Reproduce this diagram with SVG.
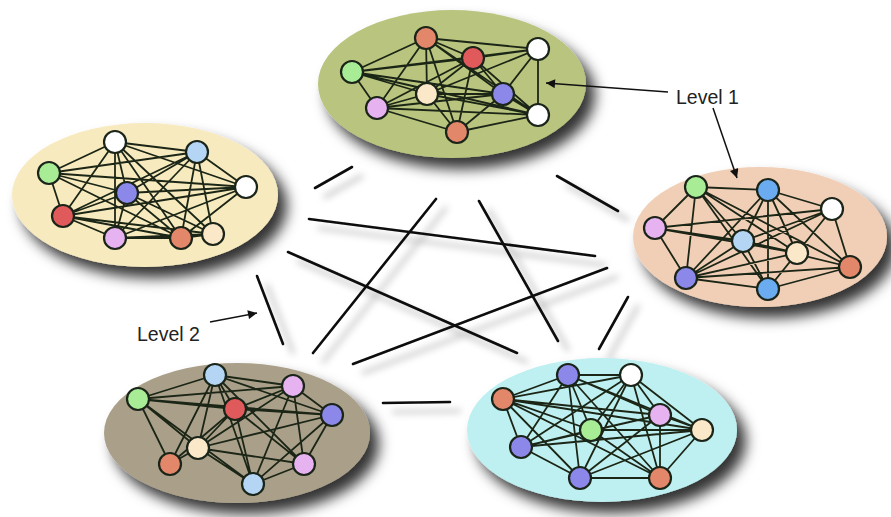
<svg xmlns="http://www.w3.org/2000/svg" width="891" height="517" viewBox="0 0 891 517">
  <defs>
    <filter id="blobShadow" x="-20%" y="-30%" width="150%" height="170%">
      <feDropShadow dx="9" dy="11" stdDeviation="7" flood-color="#000" flood-opacity="0.8"/>
    </filter>
    <filter id="lineShadow" x="-10%" y="-10%" width="130%" height="130%">
      <feDropShadow dx="10" dy="9" stdDeviation="3.5" flood-color="#000" flood-opacity="0.32"/>
    </filter>
    <marker id="arrow" viewBox="0 0 10 10" refX="10" refY="5" markerWidth="10" markerHeight="9" orient="auto" markerUnits="userSpaceOnUse">
      <path d="M0,0 L10,5 L0,10 z" fill="#111"/>
    </marker>
  </defs>
  <style>
    .edge { fill: none; stroke: #1c2616; stroke-width: 1.8; }
    .link { fill: none; stroke: #0a0a0a; stroke-width: 2.6; stroke-linecap: round; }
    .pointer { fill: none; stroke: #111; stroke-width: 1.5; }
    .n { stroke: #1a2418; stroke-width: 2.2; }
    .orange { fill: #e2876a; }
    .red { fill: #e05a5c; }
    .white { fill: #ffffff; }
    .green { fill: #a8ec96; }
    .cream { fill: #fbe8c9; }
    .purple { fill: #8c88ea; }
    .pink { fill: #e6b2f0; }
    .ltblue { fill: #b4d6f4; }
    .blue { fill: #6babf0; }
    .label { font-family: "Liberation Sans", Arial, sans-serif; font-size: 19.5px; fill: #222; }
  </style>

  <rect width="891" height="517" fill="#ffffff"/>

  <!-- inter-cluster connectors -->
  <g id="connectors" filter="url(#lineShadow)">
    <line class="link" x1="315" y1="188" x2="352" y2="167"/>
    <line class="link" x1="557" y1="176" x2="618" y2="211"/>
    <line class="link" x1="309" y1="219" x2="595" y2="256"/>
    <line class="link" x1="288" y1="252" x2="517" y2="353"/>
    <line class="link" x1="436" y1="199" x2="313" y2="353"/>
    <line class="link" x1="479" y1="201" x2="558" y2="341"/>
    <line class="link" x1="607" y1="268" x2="353" y2="364"/>
    <line class="link" x1="257" y1="276" x2="283" y2="344"/>
    <line class="link" x1="628" y1="297" x2="599" y2="349"/>
    <line class="link" x1="383" y1="403" x2="450" y2="402"/>
  </g>

  <!-- top cluster -->
  <g id="cluster-top">
    <ellipse cx="452" cy="84" rx="134" ry="74" fill="#b9c47f" filter="url(#blobShadow)"/>
    <path class="edge" d="M426,38 L473,58 M426,38 L538,49 M426,38 L352,72 M426,38 L427,94 M426,38 L503,94 M426,38 L377,108 M426,38 L457,132 M426,38 L538,115
      M473,58 L538,49 M473,58 L352,72 M473,58 L427,94 M473,58 L503,94 M473,58 L377,108 M473,58 L538,115 M473,58 L457,132
      M538,49 L538,115 M538,49 L503,94 M538,49 L427,94 M538,49 L352,72
      M352,72 L427,94 M352,72 L503,94 M352,72 L377,108 M352,72 L538,115
      M427,94 L503,94 M427,94 L377,108 M427,94 L457,132 M427,94 L538,115
      M503,94 L377,108 M503,94 L538,115 M503,94 L457,132
      M377,108 L538,115 M377,108 L457,132 M538,115 L457,132"/>
    <circle class="n orange" cx="426" cy="38" r="11"/>
    <circle class="n red" cx="473" cy="58" r="11"/>
    <circle class="n white" cx="538" cy="49" r="11"/>
    <circle class="n green" cx="352" cy="72" r="11"/>
    <circle class="n cream" cx="427" cy="94" r="11"/>
    <circle class="n purple" cx="503" cy="94" r="11"/>
    <circle class="n pink" cx="377" cy="108" r="11"/>
    <circle class="n white" cx="538" cy="115" r="11"/>
    <circle class="n orange" cx="457" cy="132" r="11"/>
  </g>

  <!-- left cluster -->
  <g id="cluster-left">
    <ellipse cx="145" cy="195" rx="133" ry="72" fill="#f8eabf" filter="url(#blobShadow)"/>
    <path class="edge" d="M115,142 L197,152 M115,142 L49,173 M115,142 L246,187 M115,142 L63,216 M115,142 L115,238 M115,142 L181,238 M115,142 L213,234 M115,142 L127,193
      M197,152 L246,187 M197,152 L127,193 M197,152 L63,216 M197,152 L115,238 M197,152 L181,238 M197,152 L213,234 M197,152 L49,173
      M49,173 L246,187 M49,173 L127,193 M49,173 L63,216 M49,173 L181,238
      M246,187 L127,193 M246,187 L63,216 M246,187 L115,238 M246,187 L181,238
      M127,193 L63,216 M127,193 L115,238 M127,193 L181,238 M127,193 L213,234
      M63,216 L115,238 M63,216 L181,238 M63,216 L213,234
      M115,238 L181,238 M115,238 L213,234 M181,238 L213,234"/>
    <circle class="n white" cx="115" cy="142" r="11"/>
    <circle class="n ltblue" cx="197" cy="152" r="11"/>
    <circle class="n green" cx="49" cy="173" r="11"/>
    <circle class="n white" cx="246" cy="187" r="11"/>
    <circle class="n purple" cx="127" cy="193" r="11"/>
    <circle class="n red" cx="63" cy="216" r="11"/>
    <circle class="n pink" cx="115" cy="238" r="11"/>
    <circle class="n orange" cx="181" cy="238" r="11"/>
    <circle class="n cream" cx="213" cy="234" r="11"/>
  </g>

  <!-- right cluster -->
  <g id="cluster-right">
    <ellipse cx="760" cy="237" rx="127" ry="70" fill="#f1cfb7" filter="url(#blobShadow)"/>
    <path class="edge" d="M696,187 L768,190 M696,187 L655,228 M696,187 L686,278 M696,187 L743,241 M696,187 L797,253 M696,187 L850,267 M696,187 L768,289
      M768,190 L832,209 M768,190 L743,241 M768,190 L686,278 M768,190 L768,289 M768,190 L797,253 M768,190 L850,267
      M832,209 L655,228 M832,209 L743,241 M832,209 L686,278 M832,209 L850,267 M832,209 L797,253
      M655,228 L743,241 M655,228 L686,278 M655,228 L797,253
      M743,241 L797,253 M743,241 L686,278 M743,241 L768,289 M743,241 L850,267
      M797,253 L686,278 M797,253 L768,289
      M850,267 L686,278 M850,267 L768,289 M686,278 L768,289"/>
    <circle class="n green" cx="696" cy="187" r="11"/>
    <circle class="n blue" cx="768" cy="190" r="11"/>
    <circle class="n white" cx="832" cy="209" r="11"/>
    <circle class="n pink" cx="655" cy="228" r="11"/>
    <circle class="n ltblue" cx="743" cy="241" r="11"/>
    <circle class="n cream" cx="797" cy="253" r="11"/>
    <circle class="n orange" cx="850" cy="267" r="11"/>
    <circle class="n purple" cx="686" cy="278" r="11"/>
    <circle class="n blue" cx="768" cy="289" r="11"/>
  </g>

  <!-- bottom-left cluster -->
  <g id="cluster-bottom-left">
    <ellipse cx="237" cy="433" rx="133" ry="70" fill="#aaa08a" filter="url(#blobShadow)"/>
    <path class="edge" d="M215,375 L293,386 M215,375 L138,399 M215,375 L235,409 M215,375 L332,415 M215,375 L198,448 M215,375 L170,464 M215,375 L304,464 M215,375 L253,484
      M293,386 L138,399 M293,386 L235,409 M293,386 L332,415 M293,386 L198,448 M293,386 L304,464 M293,386 L253,484
      M138,399 L235,409 M138,399 L332,415 M138,399 L198,448 M138,399 L170,464 M138,399 L253,484
      M235,409 L332,415 M235,409 L198,448 M235,409 L170,464 M235,409 L304,464 M235,409 L253,484
      M332,415 L198,448 M332,415 L304,464 M332,415 L253,484
      M198,448 L170,464 M198,448 L304,464 M198,448 L253,484
      M304,464 L253,484"/>
    <circle class="n ltblue" cx="215" cy="375" r="11"/>
    <circle class="n pink" cx="293" cy="386" r="11"/>
    <circle class="n green" cx="138" cy="399" r="11"/>
    <circle class="n red" cx="235" cy="409" r="11"/>
    <circle class="n purple" cx="332" cy="415" r="11"/>
    <circle class="n cream" cx="198" cy="448" r="11"/>
    <circle class="n orange" cx="170" cy="464" r="11"/>
    <circle class="n pink" cx="304" cy="464" r="11"/>
    <circle class="n ltblue" cx="253" cy="484" r="11"/>
  </g>

  <!-- bottom-right cluster -->
  <g id="cluster-bottom-right">
    <ellipse cx="602" cy="430" rx="135" ry="72" fill="#bff0f1" filter="url(#blobShadow)"/>
    <path class="edge" d="M568,375 L631,375 M568,375 L503,399 M568,375 L591,430 M568,375 L660,415 M568,375 L702,430 M568,375 L521,447 M568,375 L660,478 M568,375 L580,478
      M631,375 L503,399 M631,375 L660,415 M631,375 L702,430 M631,375 L591,430 M631,375 L521,447 M631,375 L580,478 M631,375 L660,478
      M503,399 L660,415 M503,399 L591,430 M503,399 L702,430 M503,399 L521,447 M503,399 L580,478 M503,399 L660,478
      M660,415 L702,430 M660,415 L521,447 M660,415 L580,478 M660,415 L660,478
      M591,430 L702,430 M591,430 L660,478 M591,430 L521,447
      M702,430 L521,447 M702,430 L580,478 M702,430 L660,478
      M521,447 L580,478 M580,478 L660,478"/>
    <circle class="n purple" cx="568" cy="375" r="11"/>
    <circle class="n white" cx="631" cy="375" r="11"/>
    <circle class="n orange" cx="503" cy="399" r="11"/>
    <circle class="n pink" cx="660" cy="415" r="11"/>
    <circle class="n green" cx="591" cy="430" r="11"/>
    <circle class="n cream" cx="702" cy="430" r="11"/>
    <circle class="n purple" cx="521" cy="447" r="11"/>
    <circle class="n purple" cx="580" cy="478" r="11"/>
    <circle class="n orange" cx="660" cy="478" r="11"/>
  </g>

  <!-- level labels -->
  <g id="label-level1">
    <text class="label" x="676" y="104">Level 1</text>
    <line class="pointer" x1="668" y1="92" x2="546" y2="83" marker-end="url(#arrow)"/>
    <line class="pointer" x1="713" y1="108" x2="737" y2="178" marker-end="url(#arrow)"/>
  </g>
  <g id="label-level2">
    <text class="label" x="137" y="341">Level 2</text>
    <line class="pointer" x1="210" y1="322" x2="257" y2="313" marker-end="url(#arrow)"/>
  </g>
</svg>
